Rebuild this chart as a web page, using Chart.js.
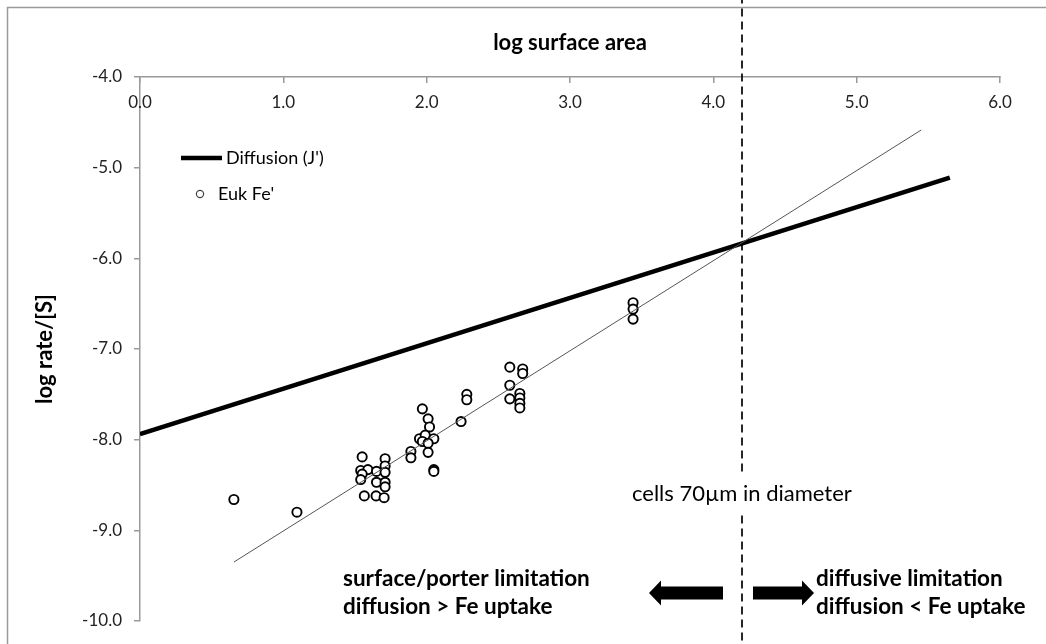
<!DOCTYPE html>
<html>
<head>
<meta charset="utf-8">
<script src="https://cdn.jsdelivr.net/npm/chart.js@4.4.1/dist/chart.umd.min.js"></script>
<style>
  html, body { margin: 0; padding: 0; background: #fff; }
  #wrap { position: relative; width: 1046px; height: 644px; }
</style>
</head>
<body>
<div id="wrap"><canvas id="chart"></canvas></div>
<script>
// Euk Fe' uptake: log surface area vs log rate/[S]
const eukX = [0.655, 1.095,
  1.55, 1.54, 1.59, 1.55, 1.54, 1.65, 1.65, 1.71, 1.71, 1.71, 1.71, 1.71, 1.565, 1.647, 1.703,
  1.97, 2.01, 2.02, 1.95, 1.99, 2.05, 1.97, 2.01, 2.01, 1.89, 1.89, 2.05, 2.05,
  2.28, 2.28, 2.24,
  2.58, 2.67, 2.67, 2.58, 2.58, 2.65, 2.65, 2.65, 2.65,
  3.44, 3.44, 3.44];
const eukY = [-8.66, -8.80,
  -8.19, -8.34, -8.33, -8.38, -8.44, -8.35, -8.47, -8.21, -8.29, -8.36, -8.47, -8.52, -8.62, -8.62, -8.64,
  -7.66, -7.77, -7.86, -7.99, -7.95, -7.99, -8.02, -8.04, -8.14, -8.13, -8.20, -8.33, -8.35,
  -7.50, -7.56, -7.80,
  -7.20, -7.22, -7.27, -7.40, -7.55, -7.49, -7.54, -7.60, -7.65,
  -6.49, -6.56, -6.67];

const diffusionX = [0, 5.65];
const diffusionY = [-7.94, -5.11];

const fitX = [0.655, 5.45];
const fitY = [-9.35, -4.585];

const cellLimitX = 4.2;           // cells 70um in diameter
const cellLimitY = [-3.1, -10.3];

const xTickValues = [0, 1, 2, 3, 4, 5, 6];
const yTickValues = [-4, -5, -6, -7, -8, -9, -10];

const toPts = (xs, ys) => xs.map((v, i) => ({ x: v, y: ys[i] }));

const FONT = 'Lato';
const AXIS_GRAY = '#9a9a9a';
const TICK_COLOR = '#222';

const overlay = {
  id: 'overlay',
  beforeDraw(chart) {
    const ctx = chart.ctx;
    ctx.save();
    ctx.strokeStyle = AXIS_GRAY;
    ctx.lineWidth = 1.5;
    ctx.beginPath();
    ctx.moveTo(7.5, 644);
    ctx.lineTo(7.5, 7.5);
    ctx.lineTo(1046, 7.5);
    ctx.stroke();
    ctx.restore();
  },
  afterDraw(chart) {
    const { ctx, chartArea } = chart;
    const xs = chart.scales.x;
    const cx = xs.getPixelForValue(cellLimitX);
    ctx.save();
    ctx.fillStyle = '#000';
    ctx.textBaseline = 'middle';

    // x tick labels sit just under the top axis line
    ctx.font = '17px ' + FONT;
    ctx.textAlign = 'center';
    ctx.fillStyle = TICK_COLOR;
    xs.ticks.forEach(t => {
      ctx.fillText(t.value.toFixed(1), xs.getPixelForValue(t.value), 103);
    });
    ctx.fillStyle = '#000';

    // axis titles, centred on the plot area
    ctx.font = 'bold 22px ' + FONT;
    ctx.fillText('log surface area', (chartArea.left + chartArea.right) / 2, 43);
    ctx.save();
    ctx.translate(45, (chartArea.top + chartArea.bottom) / 2);
    ctx.rotate(-Math.PI / 2);
    ctx.fillText('log rate/[S]', 0, 0);
    ctx.restore();

    // label box over the dashed line
    ctx.font = '22px ' + FONT;
    ctx.textAlign = 'left';
    const lbl = 'cells 70\u00b5m in diameter';
    const w = ctx.measureText(lbl).width;
    ctx.fillStyle = '#fff';
    ctx.fillRect(630, 472, w + 6, 39);
    ctx.fillStyle = '#000';
    ctx.fillText(lbl, 632, 494);

    // region labels
    ctx.font = 'bold 22.5px ' + FONT;
    ctx.fillText('surface/porter limitation', 343, 579);
    ctx.fillText('diffusion > Fe uptake', 343, 607);
    ctx.fillText('diffusive limitation', 816, 579);
    ctx.fillText('diffusion < Fe uptake', 816, 607);

    // arrows either side of the limit line
    const arrow = (tail, tip, yy) => {
      const dir = Math.sign(tip - tail);
      const headLen = 12, half = 12.5, body = 6.5;
      const neck = tip - dir * headLen;
      ctx.beginPath();
      ctx.moveTo(tail, yy - body);
      ctx.lineTo(neck, yy - body);
      ctx.lineTo(neck, yy - half);
      ctx.lineTo(tip, yy);
      ctx.lineTo(neck, yy + half);
      ctx.lineTo(neck, yy + body);
      ctx.lineTo(tail, yy + body);
      ctx.closePath();
      ctx.fill();
    };
    arrow(cx - 19, cx - 93, 593);
    arrow(cx + 11, cx + 72, 593);

    // legend
    const d0 = chart.data.datasets[1];
    ctx.strokeStyle = d0.borderColor;
    ctx.lineWidth = d0.borderWidth;
    ctx.beginPath();
    ctx.moveTo(181, 158);
    ctx.lineTo(222, 158);
    ctx.stroke();
    ctx.font = '18px ' + FONT;
    ctx.fillText(d0.label, 226, 158);
    const d1 = chart.data.datasets[2];
    ctx.strokeStyle = '#444';
    ctx.lineWidth = 1.2;
    ctx.beginPath();
    ctx.arc(200, 194, 3.6, 0, Math.PI * 2);
    ctx.stroke();
    ctx.fillText(d1.label, 218, 194);
    ctx.restore();
  }
};

new Chart(document.getElementById('chart'), {
  type: 'scatter',
  data: {
    datasets: [
      {
        label: 'fit',
        data: toPts(fitX, fitY),
        showLine: true,
        borderColor: '#555',
        borderWidth: 1,
        pointRadius: 0
      },
      {
        label: "Diffusion (J')",
        data: toPts(diffusionX, diffusionY),
        showLine: true,
        borderColor: '#000',
        borderWidth: 4.5,
        pointRadius: 0
      },
      {
        label: "Euk Fe'",
        data: toPts(eukX, eukY),
        pointRadius: 4.6,
        pointBorderWidth: 1.9,
        pointBorderColor: '#000',
        pointBackgroundColor: '#fff'
      },
      {
        label: 'limit',
        data: cellLimitY.map(v => ({ x: cellLimitX, y: v })),
        showLine: true,
        borderColor: '#111',
        borderWidth: 1.8,
        borderDash: [8, 5],
        pointRadius: 0,
        clip: false
      }
    ]
  },
  options: {
    responsive: true,
    maintainAspectRatio: false,
    animation: false,
    layout: { padding: { left: 0, right: 46, top: 0, bottom: 23 } },
    plugins: { legend: { display: false }, tooltip: { enabled: false } },
    scales: {
      x: {
        type: 'linear',
        position: 'top',
        min: 0,
        max: 6,
        afterBuildTicks: s => { s.ticks = xTickValues.map(v => ({ value: v })); },
        afterFit: s => { s.height = 77; },
        ticks: {
          callback: v => v.toFixed(1),
          color: 'rgba(0,0,0,0)',
          font: { family: FONT, size: 17 },
          maxRotation: 0
        },
        // ticks point down, into the plot, as in the original
        grid: { drawOnChartArea: false, drawTicks: true, tickLength: -6, color: AXIS_GRAY, lineWidth: 1.5 },
        border: { color: AXIS_GRAY, width: 1.5 }
      },
      y: {
        type: 'linear',
        min: -10,
        max: -4,
        afterBuildTicks: s => { s.ticks = yTickValues.map(v => ({ value: v })); },
        afterFit: s => { s.width = 140; },
        ticks: {
          callback: v => v.toFixed(1),
          padding: 12,
          color: TICK_COLOR,
          font: { family: FONT, size: 17 }
        },
        grid: { drawOnChartArea: false, drawTicks: true, tickLength: 6, color: AXIS_GRAY, lineWidth: 1.5 },
        border: { color: AXIS_GRAY, width: 1.5 }
      }
    }
  },
  plugins: [overlay]
});
</script>
</body>
</html>
